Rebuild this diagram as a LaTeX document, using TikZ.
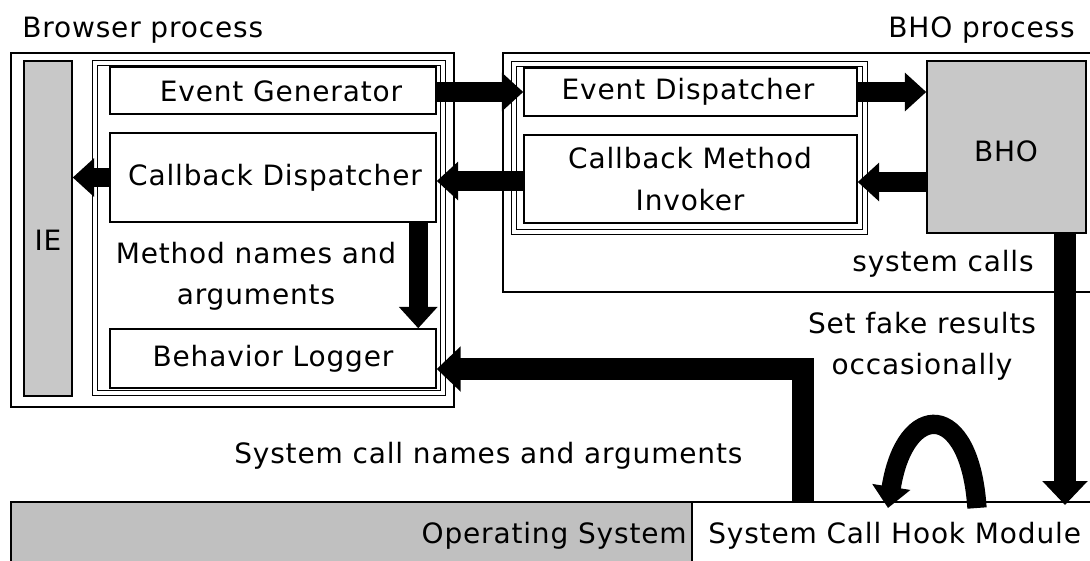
\documentclass[tikz,border=0pt]{standalone}
\usepackage{fontspec}
\setmainfont{DejaVu Sans}[LetterSpace=3]
\usetikzlibrary{arrows.meta,calc,fit}
\definecolor{boxgray}{RGB}{200,200,200}
\definecolor{osgray}{RGB}{192,192,192}
\begin{document}
\begin{tikzpicture}[x=0.75pt,y=-0.75pt,
  box/.style={draw,line width=1.1pt,inner sep=0pt},
  graybox/.style={box,fill=boxgray},
  frame/.style={draw,double,line width=0.9pt,double distance=2.4pt,inner sep=0pt},
  txt/.style={font=\fontsize{21}{31}\selectfont,inner sep=0pt,align=center},
  bigarrow/.style={line width=14.5pt,-{Triangle[width=28pt,length=16pt]}},
  widearrow/.style={line width=16.5pt,-{Triangle[width=33pt,length=18pt]}},
]
\useasboundingbox (0,0) rectangle (1090,561);

% process labels
\node[txt,anchor=base west] (bp) at (22,37) {Browser process};
\node[txt,anchor=base east] (hp) at (1075,37) {BHO process};

% browser process
\node[box,fit={(11,53)(454,407)}] (browser) {};
\node[graybox,fit={(24,61)(72,396)}] (ie) {};
\node[txt] (iet) at (48,240) {IE};
\node[frame,fit={(95,63)(443,393)}] (bframe) {};
\node[box,fit={(110,67)(436,114)}] (eg) {};
\node[txt] (egt) at (281,91) {Event Generator};
\node[box,fit={(110,133)(436,222)}] (cd) {};
\node[txt] (cdt) at (275,178) {Callback Dispatcher};
\node[box,fit={(110,329)(436,388)}] (bl) {};
\node[txt] (blt) at (273,359) {Behavior Logger};
\node[txt] (mna) at (256,276) {Method names and\\arguments};

% BHO process
\node[box,fit={(503,53)(1110,292)}] (bhop) {};
\node[frame,fit={(514,64)(865,232)}] (hframe) {};
\node[box,fit={(524,68)(857,116)}] (ed) {};
\node[txt] (edt) at (688,92) {Event Dispatcher};
\node[box,fit={(524,135)(857,223)}] (cmi) {};
\node[txt] (cmit) at (690,179) {Callback Method\\Invoker};
\node[graybox,fit={(927,61)(1086,233)}] (bho) {};
\node[txt] (bhot) at (1006,151) {BHO};
\node[txt] (sct) at (943,264) {system calls};

% operating system
\node[box,fill=osgray,fit={(11,502)(1110,580)}] (os) {};
\node[box,fill=white,fit={(692,502)(1110,580)}] (hook) {};
\node[txt,anchor=base east] (ost) at (687,543) {Operating System};
\node[txt,anchor=base west] (hkt) at (708,543) {System Call Hook Module};
\node[txt,anchor=base west] (scn) at (234,463) {System call names and arguments};
\node[txt] (sfr) at (922,346) {Set fake results\\occasionally};

% anchors for connectors
\coordinate (hkin) at (1065,505);
\coordinate (hkout) at (803,502);
\coordinate (fk1) at (977,508);
\coordinate (fk2) at (888,508);

% connectors
\draw[bigarrow] ($(eg.east)+(0,1.5)$) -- (ed.west);
\draw[bigarrow] (ed.east) -- (ed.east -| bho.west);
\draw[bigarrow] ($(bho.west)+(0,35)$) -- ($(cmi.east)+(0,3)$);
\draw[bigarrow] ($(cmi.west)+(0,2)$) -- ($(cd.east)+(0,3.5)$);
\draw[bigarrow] (cd.west) -- (cd.west -| ie.east);
\draw[bigarrow] ($(cd.south east)+(-18.5,0)$) -- ($(bl.north east)+(-18.5,0)$);
\draw[widearrow] (bho.south -| hkin) -- (hkin);
\draw[widearrow] (hkout) |- ($(bl.east)+(0,10.5)$);
\draw[bigarrow] (fk1) .. controls (970,400) and (905,400) .. (fk2);
\end{tikzpicture}
\end{document}
